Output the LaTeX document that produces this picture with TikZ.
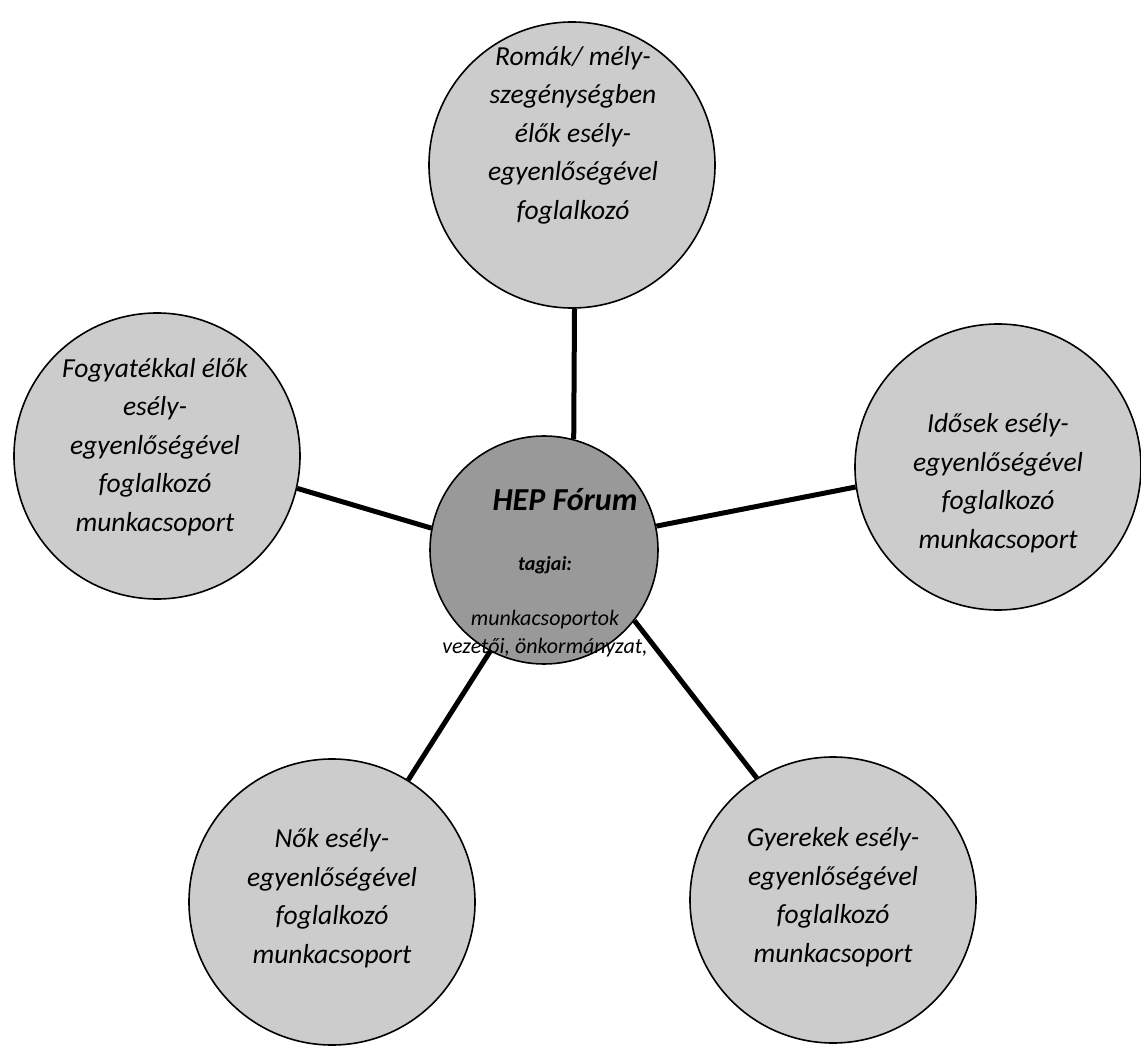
\documentclass[tikz,border=0pt]{standalone}
\usepackage{fontspec}
\setmainfont{Carlito}
\begin{document}
\begin{tikzpicture}[x=1pt,y=-1pt,
  group/.style={circle,draw=black,line width=1.6pt,fill=black!20,minimum size=286pt,inner sep=0pt},
  hub/.style={circle,draw=black,line width=1.6pt,fill=black!40,minimum size=228pt,inner sep=0pt},
  gtext/.style={align=center,font=\itshape\fontsize{27.5}{38.5}\selectfont},
  spoke/.style={line width=5pt,black}]
\useasboundingbox (0,0) rectangle (1141,1056);
\node[group] (T) at (572,165) {};
\node[group] (R) at (998,467) {};
\node[group] (L) at (157,456) {};
\node[group] (BL) at (332,902) {};
\node[group] (BR) at (833,900) {};
\node[hub] (H) at (544,550) {};
\draw[spoke] (T.-89) -- (H.75);
\draw[spoke] (L.-13) -- (H.169);
\draw[spoke] (R.-172) -- (H.12);
\draw[spoke] (BL.58) -- (H.-118);
\draw[spoke] (BR.122) -- (H.-38);
\node[gtext] (tT) at (573,135) {Romák/ mély-\\szegénységben\\élők esély-\\egyenlőségével\\foglalkozó};
\node[gtext] (tR) at (998,483) {Idősek esély-\\egyenlőségével\\foglalkozó\\munkacsoport};
\node[gtext] (tL) at (155,447) {Fogyatékkal élők\\esély-\\egyenlőségével\\foglalkozó\\munkacsoport};
\node[gtext] (tBL) at (332,898) {Nők esély-\\egyenlőségével\\foglalkozó\\munkacsoport};
\node[gtext] (tBR) at (833,897) {Gyerekek esély-\\egyenlőségével\\foglalkozó\\munkacsoport};
\node[font=\bfseries\itshape\fontsize{32}{36}\selectfont] (h1) at (565,500) {HEP Fórum};
\node[font=\bfseries\itshape\fontsize{20}{24}\selectfont] (h2) at (545,565) {tagjai:};
\node[align=center,font=\itshape\fontsize{22}{28}\selectfont] (h3) at (545,634) {munkacsoportok\\vezetői, önkormányzat,};
\end{tikzpicture}
\end{document}
